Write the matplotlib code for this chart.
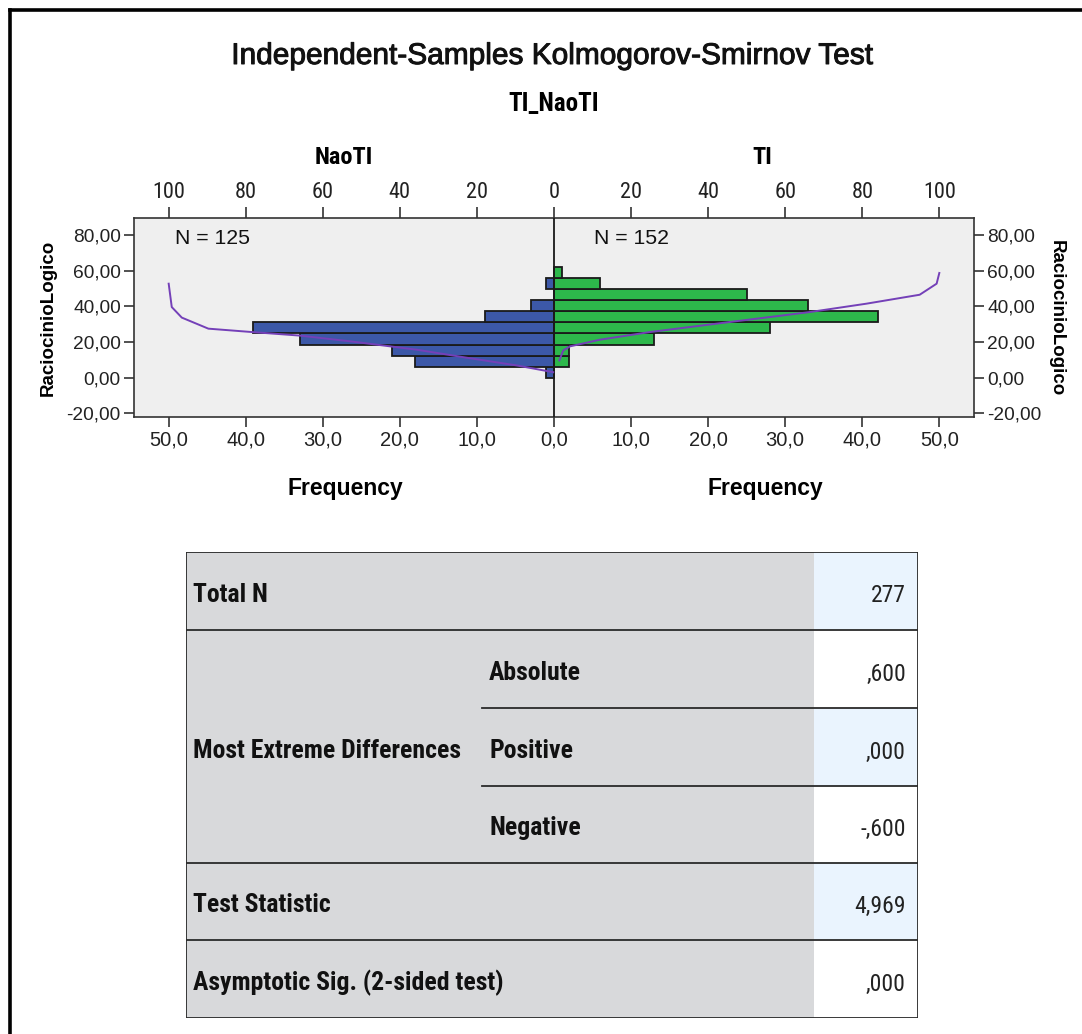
import matplotlib
matplotlib.use("Agg")
import matplotlib.pyplot as plt
from matplotlib.patches import Rectangle
from matplotlib.lines import Line2D
import matplotlib.patheffects as pe
import numpy as np

# ---------------- data ----------------
bin_edges = [0.0, 6.2, 12.4, 18.6, 24.8, 31.0, 37.2, 43.4, 49.6, 55.8, 62.0]
naoti_freq = [1, 18, 21, 33, 39, 9, 3, 0, 1, 0]
ti_freq = [0, 2, 2, 13, 28, 42, 33, 25, 6, 1]
naoti_n = 125
ti_n = 152

naoti_cum_pct = [0.2, 9.7, 22.6, 35.6, 52.9, 65.9, 78.4, 89.7, 96.6, 99.2, 100.0]
naoti_cum_val = [3.1, 6.9, 11.2, 15.7, 20.4, 23.6, 25.6, 27.5, 33.7, 39.6, 52.7]
ti_cum_pct = [1.4, 2.4, 4.2, 11.9, 24.9, 42.2, 66.4, 81.1, 94.9, 99.3, 100.0]
ti_cum_val = [9.7, 15.3, 17.6, 21.3, 25.6, 30.3, 36.8, 41.5, 46.5, 52.7, 58.7]

freq_ticks = [-50, -40, -30, -20, -10, 0, 10, 20, 30, 40, 50]
pct_ticks = [-100, -80, -60, -40, -20, 0, 20, 40, 60, 80, 100]
y_ticks = [-20, 0, 20, 40, 60, 80]

row_labels = ["Total N", "Most Extreme Differences", "Test Statistic",
              "Asymptotic Sig. (2-sided test)"]
sub_labels = ["Absolute", "Positive", "Negative"]
cell_values = ["277", ",600", ",000", "-,600", "4,969", ",000"]

# ---------------- styling ----------------
W, H = 1082, 1034
fig = plt.figure(figsize=(W / 100, H / 100), dpi=100)
fig.patch.set_facecolor("white")

REG = ["Liberation Sans", "DejaVu Sans"]
COND = ["Roboto Condensed", "DejaVu Sans"]
BLUE = "#3C58A8"
GREEN = "#2DB84B"
PURPLE = "#7440B8"
EDGE = "#1a1a1a"
SPINE = "#333333"

def fx(px):
    return px / W

def fy(py):
    return 1 - py / H

# outer frame (left + top)
fig.add_artist(Line2D([fx(9.5), fx(9.5)], [fy(9.5), 0], color="black", lw=2.6,
                      transform=fig.transFigure, solid_capstyle="projecting"))
fig.add_artist(Line2D([fx(9.5), 1], [fy(9.5), fy(9.5)], color="black", lw=2.6,
                      transform=fig.transFigure, solid_capstyle="projecting"))

# titles
fig.text(fx(553), fy(56), "Independent-Samples Kolmogorov-Smirnov Test",
         ha="center", va="center", fontsize=21.5, family=REG, color="#111111",
         path_effects=[pe.withStroke(linewidth=0.7, foreground="#111111")])
fig.text(fx(554), fy(104), "TI_NaoTI", ha="center", va="center",
         fontsize=18, family=COND, fontweight="bold")
fig.text(fx(344), fy(158), "NaoTI", ha="center", va="center",
         fontsize=17.5, family=COND, fontweight="bold")
fig.text(fx(762), fy(158), "TI", ha="center", va="center",
         fontsize=17.5, family=COND, fontweight="bold")

# ---------------- chart ----------------
ax = fig.add_axes([fx(134), fy(417), fx(974) - fx(134), (417 - 218) / H])
ax.set_facecolor("#EFEFEF")
edges = np.array(bin_edges)
centers = (edges[:-1] + edges[1:]) / 2
heights = np.diff(edges)
ax.barh(centers, -np.array(naoti_freq), height=heights, left=0,
        color=BLUE, edgecolor=EDGE, linewidth=1.3, zorder=2)
ax.barh(centers, np.array(ti_freq), height=heights, left=0,
        color=GREEN, edgecolor=EDGE, linewidth=1.3, zorder=2)
ax.axvline(0, color=EDGE, lw=1.3, zorder=3)
ax.set_xlim(-54.5, 54.5)
ax.set_ylim(-22, 89.5)

ax.set_xticks(freq_ticks)
ax.set_xticklabels([f"{abs(v):.1f}".replace(".", ",") for v in freq_ticks],
                   family=REG, fontsize=14.5)
ax.set_yticks(y_ticks)
ax.set_yticklabels([f"{v:.2f}".replace(".", ",") for v in y_ticks],
                   family=REG, fontsize=13.8)
ax.tick_params(axis="both", direction="out", length=7, width=1.2,
               color=SPINE, labelcolor="#222222", pad=2.5)
ax.tick_params(axis="y", right=True, labelright=True)
for s in ax.spines.values():
    s.set_color(SPINE)
    s.set_linewidth(1.2)

ax.text(-49.2, 78, f"N = {naoti_n}", ha="left", va="center",
        fontsize=15.3, family=REG, color="#111111")
ax.text(5.2, 78, f"N = {ti_n}", ha="left", va="center",
        fontsize=15.3, family=REG, color="#111111")

ax2 = ax.twiny()
ax2.set_xlim(-109, 109)
ax2.plot(-np.array(naoti_cum_pct), naoti_cum_val, color=PURPLE, lw=1.4, zorder=4)
ax2.plot(np.array(ti_cum_pct), ti_cum_val, color=PURPLE, lw=1.4, zorder=4)
ax2.set_xticks(pct_ticks)
ax2.set_xticklabels([str(abs(v)) for v in pct_ticks], family=COND, fontsize=16)
ax2.tick_params(axis="x", direction="out", length=8, width=1.2, color=SPINE,
                labelcolor="#222222", pad=2.5)
for s in ax2.spines.values():
    s.set_visible(False)

fig.text(fx(345), fy(488), "Frequency", ha="center", va="center",
         fontsize=16.5, family=REG, fontweight="bold")
fig.text(fx(765), fy(488), "Frequency", ha="center", va="center",
         fontsize=16.5, family=REG, fontweight="bold")
fig.text(fx(48), fy(318), "RaciocinioLogico", ha="center", va="center",
         rotation=90, fontsize=13.5, family=REG, fontweight="bold")
fig.text(fx(1056), fy(318), "RaciocinioLogico", ha="center", va="center",
         rotation=-90, fontsize=13.5, family=REG, fontweight="bold")

# ---------------- table ----------------
TL, TR, TT, TB = 186, 918, 552, 1018
x_sub, x_val = 482, 814
row_edges = [552, 630, 708, 786, 863, 940, 1018]
tax = fig.add_axes([fx(TL), fy(TB), (TR - TL) / W, (TB - TT) / H])
tax.set_xlim(TL, TR)
tax.set_ylim(TB, TT)
tax.axis("off")
GRAY = "#D8D9DB"
LBLUE = "#EAF4FE"
tax.add_patch(Rectangle((TL, TT), x_val - TL, TB - TT, facecolor=GRAY,
                        edgecolor="none"))
val_colors = [LBLUE, "white", LBLUE, "white", LBLUE, "white"]
for i, (v, c) in enumerate(zip(cell_values, val_colors)):
    y0, y1 = row_edges[i], row_edges[i + 1]
    tax.add_patch(Rectangle((x_val, y0), TR - x_val, y1 - y0, facecolor=c,
                            edgecolor="none"))
    tax.text(TR - 12, (y0 + y1) / 2 + 5, v, ha="right", va="center",
             fontsize=17, family=COND, color="#222222")

LC = "#2a2a2a"
for yy in [630, 863, 940]:
    tax.plot([TL, TR], [yy, yy], color=LC, lw=1.3)
for yy in [708, 786]:
    tax.plot([x_sub, TR], [yy, yy], color=LC, lw=1.3)
tax.add_patch(Rectangle((TL, TT), TR - TL, TB - TT, facecolor="none",
                        edgecolor=LC, lw=1.3))

main_rows = [(row_edges[0], row_edges[1]), (row_edges[1], row_edges[4]),
             (row_edges[4], row_edges[5]), (row_edges[5], row_edges[6])]
for lab, (y0, y1) in zip(row_labels, main_rows):
    tax.text(TL + 7, (y0 + y1) / 2 + 4, lab, ha="left", va="center",
             fontsize=18.5, family=COND, fontweight="bold", color="#111111")
for j, lab in enumerate(sub_labels):
    y0, y1 = row_edges[1 + j], row_edges[2 + j]
    tax.text(x_sub + 7, (y0 + y1) / 2 + 4, lab, ha="left", va="center",
             fontsize=18.5, family=COND, fontweight="bold", color="#111111")

fig.savefig("out.png", dpi=100)
